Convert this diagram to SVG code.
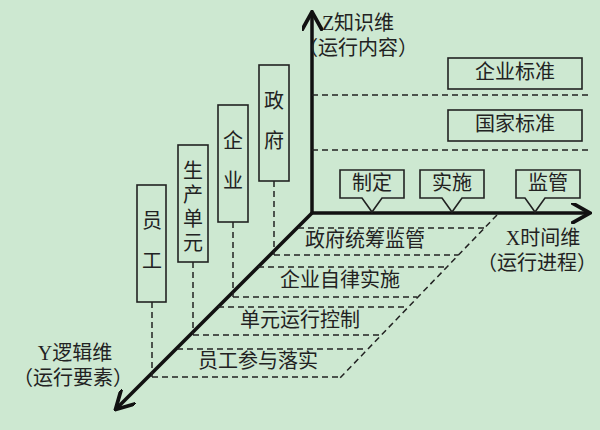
<svg xmlns="http://www.w3.org/2000/svg" width="600" height="430" viewBox="0 0 600 430">
<defs>
<style>
text{font-family:"Liberation Serif","Noto Sans CJK SC",serif;font-size:20px;fill:#222;text-anchor:middle;dominant-baseline:middle}
.b{fill:none;stroke:#222;stroke-width:1.6}
.d{fill:none;stroke:#222;stroke-width:1.5;stroke-dasharray:6 4}
.ax{fill:none;stroke:#111;stroke-width:3.5}
</style>
<marker id="ah" viewBox="0 0 10 10" refX="8" refY="5" markerWidth="6" markerHeight="6" orient="auto-start-reverse" markerUnits="strokeWidth"><path d="M0,0 L9,5 L0,10" fill="none" stroke="#111" stroke-width="1.8"/></marker>
</defs>
<rect width="600" height="430" fill="#cde8d1"/>
<g id="connectors">
<line class="ax" x1="312" y1="213" x2="312" y2="14" marker-end="url(#ah)"/>
<line class="ax" x1="312" y1="213" x2="588" y2="213" marker-end="url(#ah)"/>
<line class="ax" x1="312" y1="213" x2="117" y2="408" marker-end="url(#ah)"/>
<path class="d" d="M312,95 H590 M312,150 H590"/>
<path class="d" d="M497,215 L340,378"/>
<path class="d" d="M298,228 H484 M274,255 H458 M274,181 V255"/>
<path class="d" d="M258,267 H446 M233,297 H417 M233,222 V297"/>
<path class="d" d="M218,307 H407 M193,335 H381 M193,262 V335"/>
<path class="d" d="M177,349 H366 M152,377 H340 M152,302 V377"/>
</g>
<g id="z-axis-label"><text x="358" y="25">Z知识维</text><text x="358" y="50">（运行内容）</text></g>
<g id="x-axis-label"><text x="543" y="240">X时间维</text><text x="537" y="265">（运行进程）</text></g>
<g id="y-axis-label"><text x="75" y="355">Y逻辑维</text><text x="73" y="380">（运行要素）</text></g>
<g id="n-qybz"><rect class="b" x="448" y="58" width="134" height="31"/><text x="515" y="74">企业标准</text></g>
<g id="n-gjbz"><rect class="b" x="448" y="110" width="134" height="31"/><text x="515" y="126">国家标准</text></g>
<g id="n-zd"><path class="b" d="M340,170 H404 V198 H382 L377,205 L372,212 L367,205 L362,198 H340 Z"/><text x="372" y="185">制定</text></g>
<g id="n-ss"><path class="b" d="M420,170 H484 V198 H462 L457,205 L452,212 L447,205 L442,198 H420 Z"/><text x="452" y="185">实施</text></g>
<g id="n-jg"><path class="b" d="M516,170 H580 V198 H545 L540,205 L535,212 L530,205 L525,198 H516 Z"/><text x="548" y="185">监管</text></g>
<g id="n-zf"><rect class="b" x="259" y="65" width="30" height="116"/><text x="274" y="103">政</text><text x="274" y="143">府</text></g>
<g id="n-qy"><rect class="b" x="218" y="105" width="30" height="117"/><text x="233" y="143">企</text><text x="233" y="183">业</text></g>
<g id="n-scdy"><rect class="b" x="178" y="145" width="30" height="117"/><text x="193" y="173">生</text><text x="193" y="197">产</text><text x="193" y="221">单</text><text x="193" y="245">元</text></g>
<g id="n-yg"><rect class="b" x="137" y="185" width="29" height="117"/><text x="152" y="223">员</text><text x="152" y="263">工</text></g>
<g id="band-zf"><text x="365" y="242">政府统筹监管</text></g>
<g id="band-qy"><text x="340" y="282">企业自律实施</text></g>
<g id="band-dy"><text x="300" y="322">单元运行控制</text></g>
<g id="band-yg"><text x="258" y="363">员工参与落实</text></g>
</svg>
